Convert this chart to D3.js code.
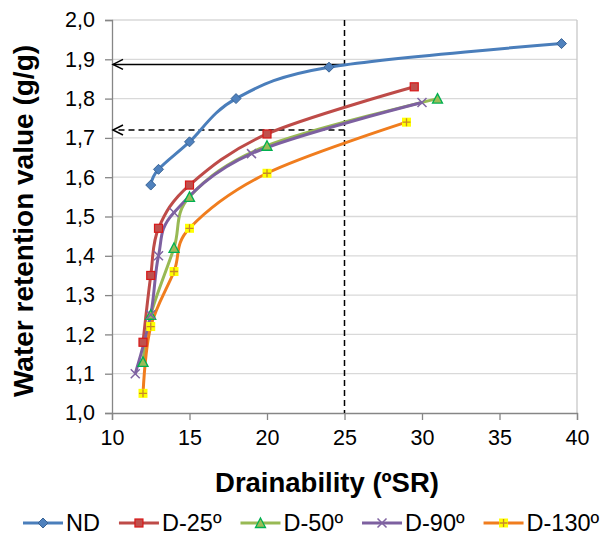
<!DOCTYPE html>
<html>
<head>
<meta charset="utf-8">
<script src="https://cdn.jsdelivr.net/npm/d3@7"></script>
<style>
  html, body { margin: 0; padding: 0; background: #fff; }
  svg { display: block; font-family: "Liberation Sans", Arial, sans-serif; }
</style>
</head>
<body>
<svg id="chart" width="602" height="544"></svg>
<script>
// Water retention value vs. drainability for each treatment
const seriesNames = ["ND", "D-25º", "D-50º", "D-90º", "D-130º"];
const ndX    = [12.5, 13, 15, 18, 24, 39];
const ndY    = [1.58, 1.62, 1.69, 1.80, 1.88, 1.94];
const d25X   = [12, 12.5, 13, 15, 20, 29.5];
const d25Y   = [1.18, 1.35, 1.47, 1.58, 1.71, 1.83];
const d50X   = [12, 12.5, 14, 15, 20, 31];
const d50Y   = [1.13, 1.25, 1.42, 1.55, 1.68, 1.80];
const d90X   = [11.5, 12.5, 13, 14, 19, 30];
const d90Y   = [1.10, 1.25, 1.40, 1.51, 1.66, 1.79];
const d130X  = [12, 12.5, 14, 15, 20, 29];
const d130Y  = [1.05, 1.22, 1.36, 1.47, 1.61, 1.74];

const xTicks = [10, 15, 20, 25, 30, 35, 40];
const yTicks = [1.0, 1.1, 1.2, 1.3, 1.4, 1.5, 1.6, 1.7, 1.8, 1.9, 2.0];

// Reference drainability and the read-off retention levels
const refDrainability = 25;
const refLevels = [1.887, 1.72];   // solid arrow (ND), dashed arrow (D-25º)

const xs = [ndX, d25X, d50X, d90X, d130X];
const ys = [ndY, d25Y, d50Y, d90Y, d130Y];
const series = seriesNames.map((name, i) => ({
  name,
  points: xs[i].map((x, j) => ({ x, y: ys[i][j] }))
}));

const styles = {
  "ND":     { line: "#4a7ebb", fill: "#4f81bd", stroke: "#3a6496", marker: "diamond" },
  "D-25º":  { line: "#be4b48", fill: "#c0504d", stroke: "#d81818", marker: "square" },
  "D-50º":  { line: "#98b954", fill: "#9bbb59", stroke: "#00b050", marker: "triangle" },
  "D-90º":  { line: "#7d60a0", fill: "none",    stroke: "#8064a2", marker: "x" },
  "D-130º": { line: "#f07d1e", fill: "#ffff00", stroke: "#c8882a", marker: "plus" }
};

const svg = d3.select("#chart");
const plot = { left: 112, right: 577, top: 20, bottom: 413 };

const x = d3.scaleLinear().domain([10, 40]).range([plot.left, plot.right]);
const y = d3.scaleLinear().domain([1.0, 2.0]).range([plot.bottom, plot.top]);

const fmt = d => d3.format(".1f")(d).replace(".", ",");

// horizontal gridlines
svg.append("g").selectAll("line").data(yTicks.slice(1)).join("line")
  .attr("x1", plot.left).attr("x2", plot.right)
  .attr("y1", d => y(d)).attr("y2", d => y(d))
  .attr("stroke", "#d9d9d9").attr("stroke-width", 1.3);

// right edge of plot area
svg.append("line")
  .attr("x1", plot.right).attr("x2", plot.right).attr("y1", plot.top).attr("y2", plot.bottom)
  .attr("stroke", "#c8c8c8").attr("stroke-width", 1.3);

// axes
const xAxis = d3.axisBottom(x).tickValues(xTicks).tickSize(7).tickPadding(10).tickFormat(d3.format("d"));
const yAxis = d3.axisLeft(y).tickValues(yTicks).tickSize(7).tickPadding(10).tickFormat(fmt);

const gx = svg.append("g").attr("transform", `translate(0,${plot.bottom})`).call(xAxis);
const gy = svg.append("g").attr("transform", `translate(${plot.left},0)`).call(yAxis);
[gx, gy].forEach(g => {
  g.select(".domain").attr("stroke", "#868686").attr("stroke-width", 1.3);
  g.selectAll(".tick line").attr("stroke", "#868686").attr("stroke-width", 1.3);
  g.selectAll(".tick text").attr("fill", "#000").attr("font-size", 21.5)
    .attr("font-family", "Liberation Sans, Arial, sans-serif");
});

// reference lines and arrows
const refG = svg.append("g").attr("stroke", "#000").attr("fill", "none");
refG.append("line")
  .attr("x1", x(refDrainability)).attr("x2", x(refDrainability))
  .attr("y1", plot.top).attr("y2", plot.bottom)
  .attr("stroke-width", 1.5).attr("stroke-dasharray", "6,4");
refLevels.forEach((lvl, i) => {
  const yy = y(lvl);
  refG.append("line")
    .attr("x1", x(refDrainability)).attr("x2", plot.left + 1)
    .attr("y1", yy).attr("y2", yy)
    .attr("stroke-width", 1.5)
    .attr("stroke-dasharray", i === 0 ? null : "6,4");
  refG.append("path")
    .attr("d", `M${plot.left + 11},${yy - 5}L${plot.left + 1},${yy}L${plot.left + 11},${yy + 5}`)
    .attr("stroke-width", 1.5);
});

// smoothed series lines
const line = d3.line().x(d => x(d.x)).y(d => y(d.y)).curve(d3.curveCardinal.tension(0));
svg.append("g").selectAll("path").data(series).join("path")
  .attr("d", d => line(d.points))
  .attr("fill", "none")
  .attr("stroke", d => styles[d.name].line)
  .attr("stroke-width", 3)
  .attr("stroke-linejoin", "round");

// markers
function drawMarker(g, type, st) {
  if (type === "diamond") {
    g.append("path").attr("d", "M0,-5L5,0L0,5L-5,0Z")
      .attr("fill", st.fill).attr("stroke", st.stroke).attr("stroke-width", 1);
  } else if (type === "square") {
    g.append("rect").attr("x", -4).attr("y", -4).attr("width", 8).attr("height", 8)
      .attr("fill", st.fill).attr("stroke", st.stroke).attr("stroke-width", 1.2);
  } else if (type === "triangle") {
    g.append("path").attr("d", "M0,-5L5,4.5L-5,4.5Z")
      .attr("fill", st.fill).attr("stroke", st.stroke).attr("stroke-width", 1.3);
  } else if (type === "x") {
    g.append("path").attr("d", "M-4.5,-4.5L4.5,4.5M-4.5,4.5L4.5,-4.5")
      .attr("fill", "none").attr("stroke", st.stroke).attr("stroke-width", 1.5);
  } else if (type === "plus") {
    g.append("rect").attr("x", -4.5).attr("y", -4.5).attr("width", 9).attr("height", 9)
      .attr("fill", st.fill).attr("stroke", "none");
    g.append("path").attr("d", "M-4,0L4,0M0,-4L0,4")
      .attr("fill", "none").attr("stroke", st.stroke).attr("stroke-width", 1.3);
  }
}

series.forEach(s => {
  const st = styles[s.name];
  s.points.forEach(p => {
    const g = svg.append("g").attr("transform", `translate(${x(p.x)},${y(p.y)})`);
    drawMarker(g, st.marker, st);
  });
});

// axis titles
svg.append("text")
  .attr("x", 327).attr("y", 492)
  .attr("text-anchor", "middle")
  .attr("font-size", 27.5).attr("font-weight", "bold")
  .text("Drainability (ºSR)");

svg.append("text")
  .attr("transform", "translate(33,221) rotate(-90)")
  .attr("text-anchor", "middle")
  .attr("font-size", 28).attr("font-weight", "bold")
  .text("Water retention value (g/g)");

// legend
const legend = svg.append("g");
let lx = 23;
const ly = 523;
series.forEach(s => {
  const st = styles[s.name];
  legend.append("line")
    .attr("x1", lx).attr("x2", lx + 40).attr("y1", ly).attr("y2", ly)
    .attr("stroke", st.line).attr("stroke-width", 3);
  drawMarker(legend.append("g").attr("transform", `translate(${lx + 20},${ly})`), st.marker, st);
  const t = legend.append("text")
    .attr("x", lx + 43).attr("y", ly).attr("dy", "0.36em")
    .attr("font-size", 23.5)
    .text(s.name);
  lx = lx + 43 + t.node().getComputedTextLength() + 19;
});
</script>
</body>
</html>
